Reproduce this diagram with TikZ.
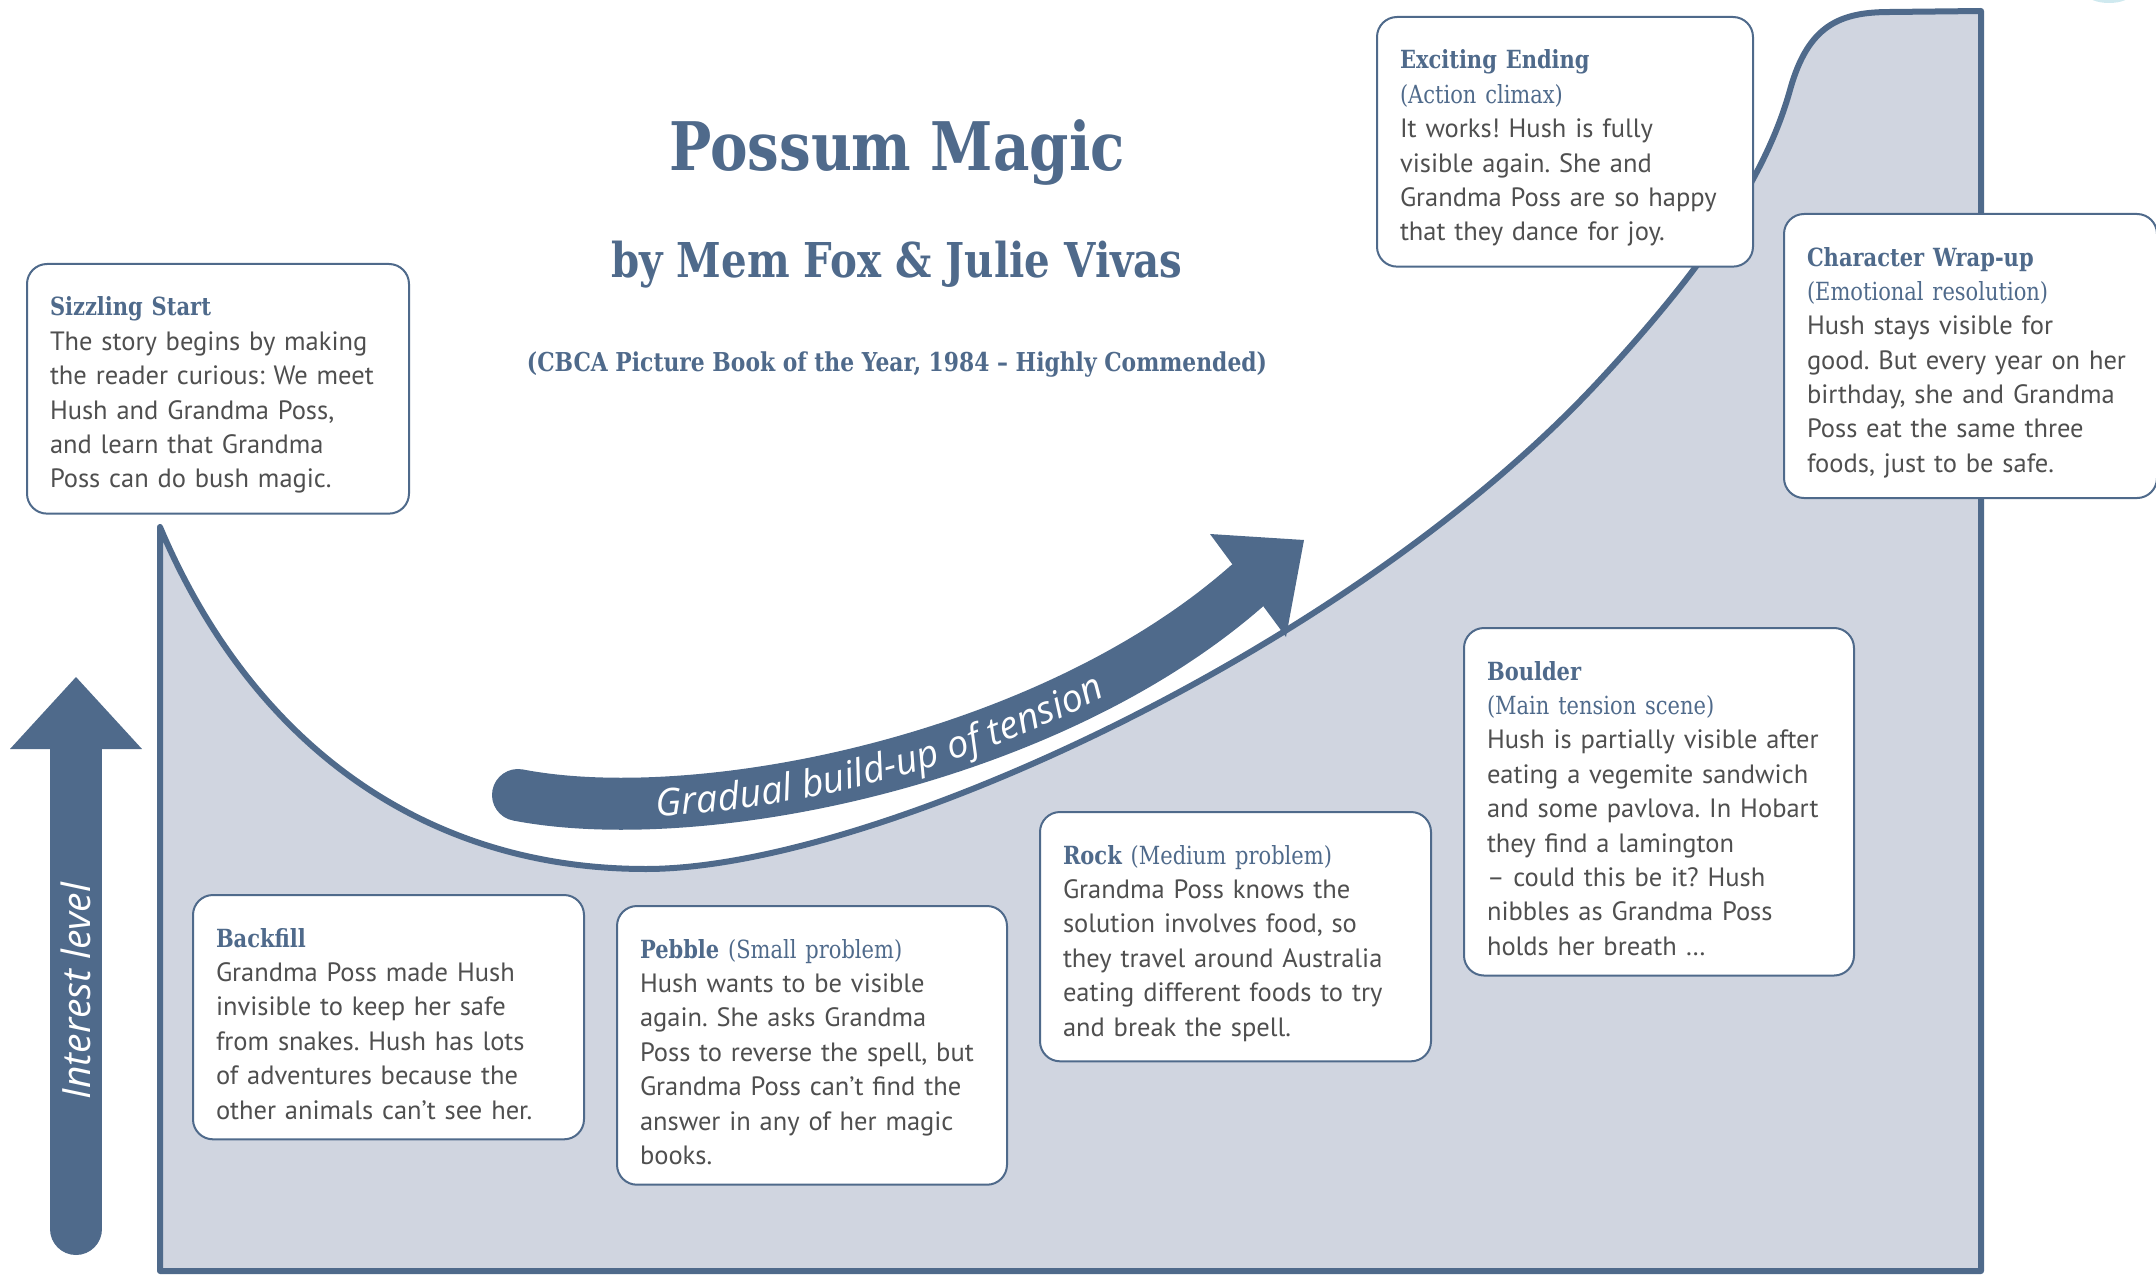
\documentclass[tikz,border=0pt]{standalone}
\usepackage{fontspec}
\setmainfont{PT Sans}
\newfontfamily\slabfont{DejaVu Serif}[FakeStretch=0.84]
\newfontfamily\labelfont{Open Sans}
\usetikzlibrary{positioning,decorations.text}
\frenchspacing

\definecolor{slate}{HTML}{4F6A8B}
\definecolor{pale}{HTML}{D0D5E0}
\definecolor{ink}{HTML}{4F4F4F}
\definecolor{mist}{HTML}{CFE9EF}

\newcommand{\hd}[1]{\rule{0pt}{32pt}{\slabfont\bfseries\fontsize{25}{34.4}\selectfont\color{slate}#1}}
\newcommand{\subhd}[1]{{\slabfont\fontsize{25}{34.4}\selectfont\color{slate}#1}}
\newcommand{\gradfont}{\labelfont\itshape\fontsize{38}{38}\selectfont\color{white}}

\begin{document}
\begin{tikzpicture}[x=1pt,y=-1pt,line join=round,
  card/.style={rectangle,rounded corners=20pt,draw=slate,line width=2pt,fill=white,
    anchor=north west,align=left,inner xsep=23pt,inner ysep=20pt,
    font=\fontsize{26.5}{34.4}\selectfont,text=ink},
  band/.style={draw=slate,line width=52pt,line cap=round}]

  \useasboundingbox (0,0) rectangle (2156,1276);

  % rising interest area
  \coordinate (start) at (160,527);
  \coordinate (low) at (646,869);
  \coordinate (climb) at (1600,380);
  \coordinate (steep) at (1790,90);
  \coordinate (peak) at (1981,11);
  \path[fill=pale,draw=slate,line width=6pt] (160,1271) -- (start)
    .. controls (250,740) and (420,869) .. (low)
    .. controls (872,869) and (1350,650) .. (climb)
    .. controls (1700,272) and (1765,180) .. (steep)
    .. controls (1808,25) and (1840,12) .. (1890,12) -- (peak)
    -- (1981,1271) -- cycle;
  \fill[mist] (2109,-6) ellipse [x radius=22pt,y radius=9pt];

  % interest level arrow
  \coordinate (lbot) at (76,1229);
  \coordinate (lbase) at (76,749);
  \path[band] (lbot) -- (lbase);
  \fill[slate] (lbase) ++(-66,0) -- ++(66,-72) -- ++(66,72) -- cycle;
  \node[rotate=90,font=\labelfont\itshape\fontsize{39}{39}\selectfont,text=white] (lvl) at (76,991) {Interest level};

  % build-up arrow
  \coordinate (tail) at (518,795);
  \coordinate (head) at (1248,585);
  \coordinate (tip) at (1304,540);
  \path[band] (tail) .. controls (700,830) and (1050,760) .. (head);
  \fill[slate] (1210,534) -- (tip) -- (1286,637) -- cycle;
  \path[decorate,decoration={text along path,text={|\gradfont|Gradual build-up of tension},
    text align={left indent=138pt},raise=-13pt}] (tail) .. controls (700,830) and (1050,760) .. (head);

  % title
  \node[font=\slabfont\bfseries\fontsize{67}{67}\selectfont,text=slate] (title) at (897,152) {Possum Magic};
  \node[font=\slabfont\bfseries\fontsize{48}{48}\selectfont,text=slate] (authors) at (897,265) {by Mem Fox \& Julie Vivas};
  \node[font=\slabfont\bfseries\fontsize{26}{26}\selectfont,text=slate] (award) at (897,365) {(CBCA Picture Book of the Year, 1984 – Highly Commended)};

  % story stages
  \node[card,text width=336pt] (1) at (26,263) {\hd{Sizzling Start}\\
    The story begins by making\\the reader curious: We meet\\Hush and Grandma Poss,\\and learn that Grandma\\Poss can do bush magic.};
  \node[card,text width=345pt] (2) at (192,894) {\hd{Backfill}\\
    Grandma Poss made Hush\\invisible to keep her safe\\from snakes. Hush has lots\\of adventures because the\\other animals can’t see her.};
  \node[card,text width=344pt] (3) at (616,905) {\hd{Pebble} \subhd{(Small problem)}\\
    Hush wants to be visible\\again. She asks Grandma\\Poss to reverse the spell, but\\Grandma Poss can’t find the\\answer in any of her magic\\books.};
  \node[card,text width=345pt] (4) at (1039,811) {\hd{Rock} \subhd{(Medium problem)}\\
    Grandma Poss knows the\\solution involves food, so\\they travel around Australia\\eating different foods to try\\and break the spell.};
  \node[card,text width=344pt] (5) at (1463,627) {\hd{Boulder}\\\subhd{(Main tension scene)}\\
    Hush is partially visible after\\eating a vegemite sandwich\\and some pavlova. In Hobart\\they find a lamington\\– could this be it? Hush\\nibbles as Grandma Poss\\holds her breath …};
  \node[card,text width=330pt] (6) at (1376,16) {\hd{Exciting Ending}\\\subhd{(Action climax)}\\
    It works! Hush is fully\\visible again. She and\\Grandma Poss are so happy\\that they dance for joy.};
  \node[card,text width=327pt] (7) at (1783,213) {\hd{Character Wrap-up}\\\subhd{(Emotional resolution)}\\
    Hush stays visible for\\good. But every year on her\\birthday, she and Grandma\\Poss eat the same three\\foods, just to be safe.};
\end{tikzpicture}
\end{document}
